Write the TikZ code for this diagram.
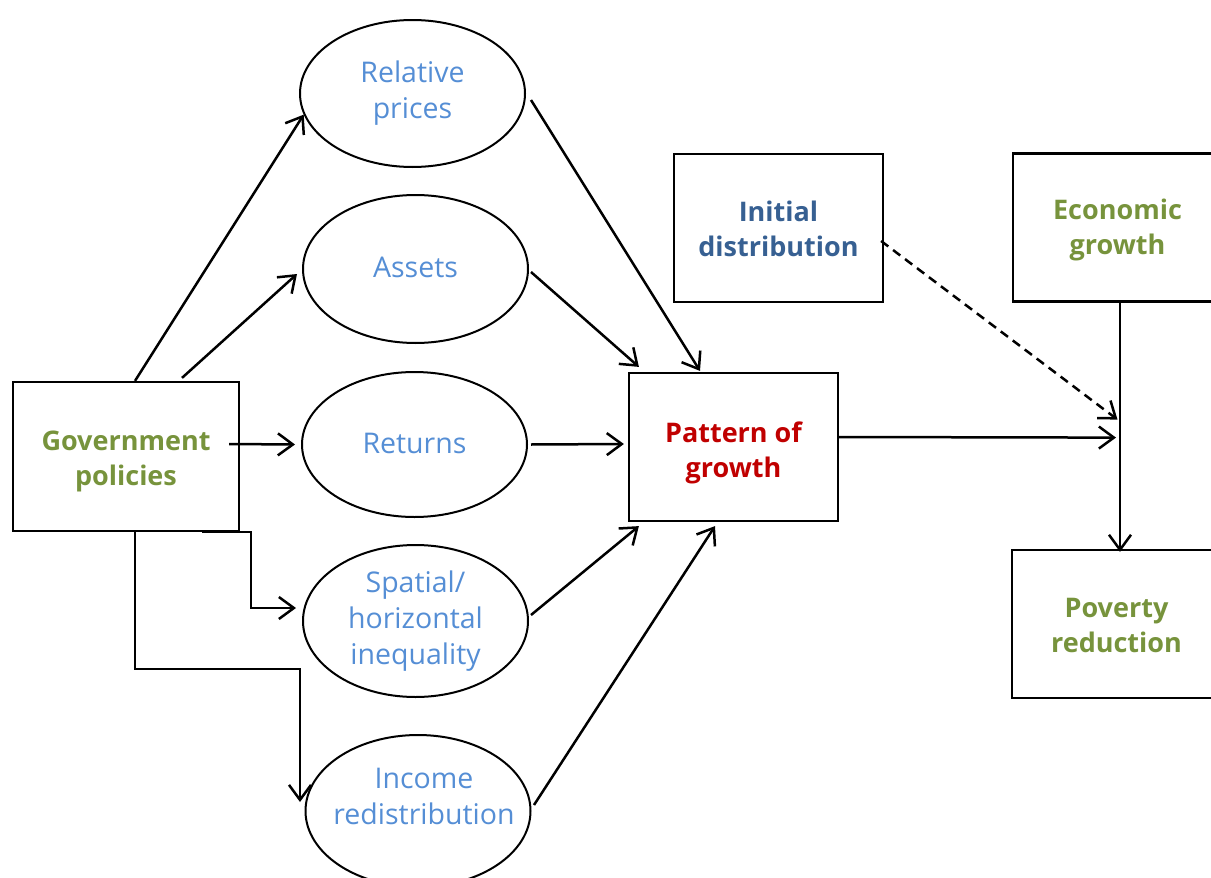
\documentclass[tikz,border=0pt]{standalone}
\usepackage{fontspec}
\setmainfont{Open Sans}
\usetikzlibrary{arrows.meta,calc,shapes.geometric}
\definecolor{cgreen}{HTML}{77933C}
\definecolor{clblue}{HTML}{558ED5}
\definecolor{cdblue}{HTML}{376092}
\definecolor{cred}{HTML}{C00000}
\begin{document}
\begin{tikzpicture}[x=1pt,y=-1pt,
  txt/.style={font=\fontsize{28.5}{36}\selectfont, align=center},
  box/.style={draw, line width=2.2pt, rectangle, minimum width=209pt, minimum height=148pt, inner sep=0pt},
  btxt/.style={align=center, font=\fontsize{27}{35}\selectfont\bfseries, text=#1},
  oval/.style={draw, line width=2pt, ellipse, minimum width=225pt, minimum height=147pt, inner sep=0pt, txt, text=clblue},
  arr/.style={line width=2.5pt, -{Straight Barb[length=15pt,width=22pt]}}]
\useasboundingbox (0,0) rectangle (1211,878);
% nodes
\node[box, minimum width=226pt, minimum height=149pt, label={[btxt=cgreen, yshift=-5pt]center:Government\\policies}] (gov) at (126,456.5) {};
\node[oval] (rel) at (412.5,93.5) {Relative\\prices};
\node[oval, minimum height=148pt] (assets) at (415.5,269) {\raisebox{4pt}{Assets}};
\node[oval, minimum height=145pt] (returns) at (414.5,444.5) {\raisebox{2pt}{Returns}};
\node[oval, minimum height=152pt] (spatial) at (415.5,621) {Spatial/\\horizontal\\inequality};
\node[oval, minimum height=152pt] (income) at (418,811) {};
\node[txt, text=clblue] (incomet) at (424,796) {Income\\redistribution};
\node[box, label={[btxt=cred, yshift=-6pt]center:Pattern of\\growth}] (pattern) at (733.5,447) {};
\node[box, label={[btxt=cdblue, yshift=-1pt]center:Initial\\distribution}] (init) at (778.5,228) {};
\node[box, label={[btxt=cgreen, yshift=-2pt]center:Economic\\growth}] (econ) at (1117.5,227.5) {};
\node[box, label={[btxt=cgreen, yshift=-1pt]center:Poverty\\reduction}] (pov) at (1116.5,624) {};
\coordinate (jd) at ([yshift=-117pt]econ.south);
\coordinate (jp) at ([xshift=-1.5pt,yshift=-135pt]econ.south);
% connectors from government policies
\draw[arr] ([xshift=9pt]gov.north) -- (rel.191);
\draw[arr] ([xshift=56pt,yshift=3pt]gov.north) -- ([xshift=-5pt,yshift=-5pt]assets.west);
\draw[arr] ([xshift=-11pt,yshift=12.5pt]gov.east) -- ([xshift=-6pt]returns.west);
\draw[arr] ([xshift=76pt]gov.south) -- ++(49,0) |- ([xshift=-6pt,yshift=13pt]spatial.west);
\draw[arr] ([xshift=9pt]gov.south) -- ++(0,137) -| ([xshift=-4.5pt,yshift=9pt]income.west);
% connectors into pattern of growth
\draw[arr] ([xshift=5pt,yshift=-6.5pt]rel.east) -- ([xshift=-33.5pt,yshift=1pt]pattern.north);
\draw[arr] ([xshift=2pt,yshift=-3pt]assets.east) -- ([xshift=11pt,yshift=5pt]pattern.north west);
\draw[arr] ([xshift=3pt]returns.east) -- ([xshift=-4pt,yshift=3pt]pattern.west);
\draw[arr] ([xshift=2pt,yshift=6pt]spatial.east) -- ([xshift=11pt,yshift=-4pt]pattern.south west);
\draw[arr] ([xshift=2.5pt,yshift=6pt]income.east) -- ([xshift=-18.5pt,yshift=-4pt]pattern.south);
% right side
\draw[arr] ([xshift=-2pt,yshift=10pt]pattern.east) -- (jp);
\draw[arr, dash pattern=on 9pt off 6pt] ([xshift=-3pt,yshift=-13pt]init.east) -- (jd);
\draw[arr] ([xshift=2.5pt]econ.south) -- ([xshift=3.5pt,yshift=-3pt]pov.north);
\end{tikzpicture}
\end{document}
